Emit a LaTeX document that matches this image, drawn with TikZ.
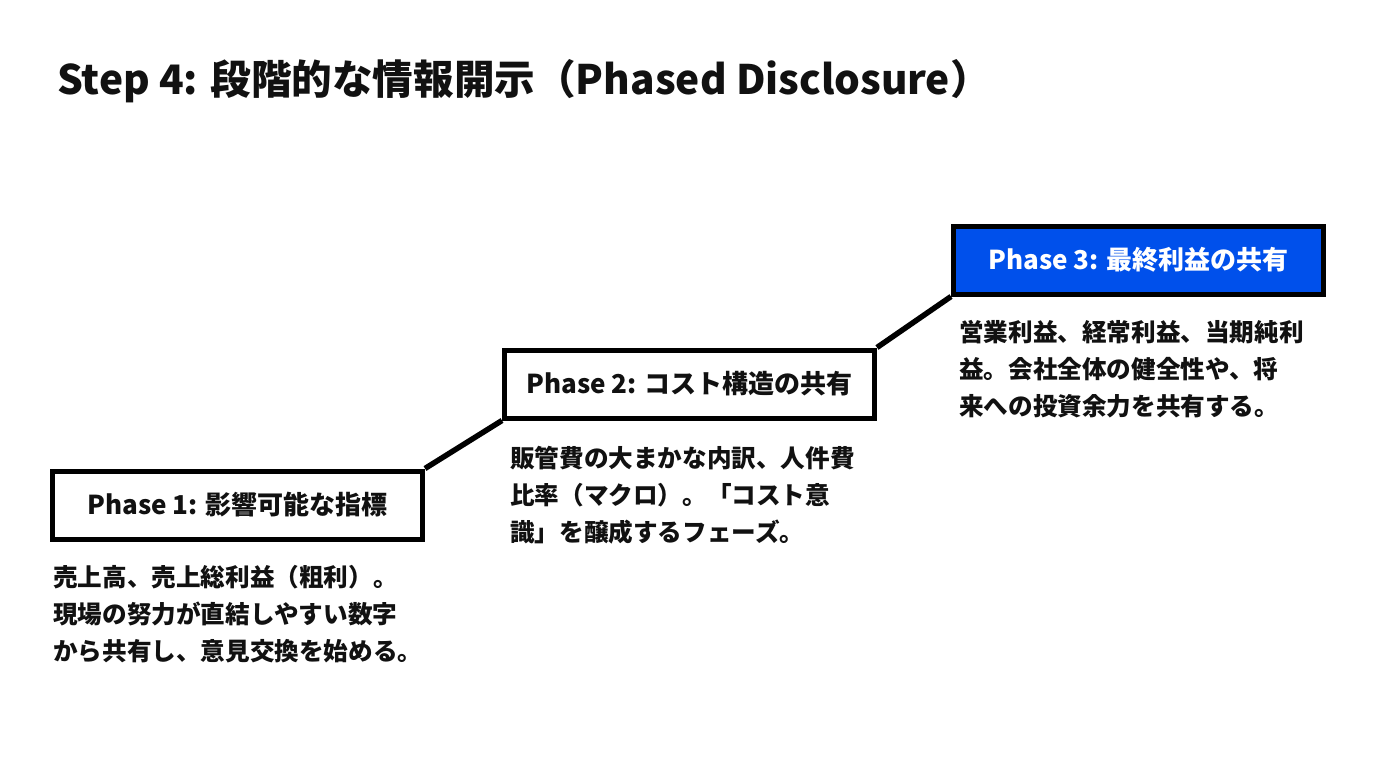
\documentclass[tikz,border=0pt]{standalone}
\usepackage{fontspec}
\setmainfont{Noto Sans CJK JP}
\usetikzlibrary{positioning}
\definecolor{phaseblue}{RGB}{0,80,235}
\definecolor{inkblack}{RGB}{17,17,17}
\tikzset{
  phasebox/.style={draw=black, line width=5pt, fill=white, text=inkblack,
    minimum width=370pt, minimum height=68pt, inner sep=0pt,
    font=\fontsize{26}{30}\selectfont\bfseries},
  phasedesc/.style={align=left, inner sep=0pt, text=inkblack,
    font=\fontsize{24.6}{37}\selectfont\bfseries},
  stepline/.style={draw=black, line width=5.5pt},
}
\begin{document}
\begin{tikzpicture}[x=1pt,y=-1pt]
\useasboundingbox[fill=white] (0,0) rectangle (1376,768);
% title
\node[anchor=base west, inner sep=0pt, text=inkblack, font=\fontsize{40.6}{48}\selectfont\bfseries] (title) at (57,95) {Step 4: 段階的な情報開示（Phased Disclosure）};
% phases
\node[phasebox] (ph1) at (237.5,505) {Phase 1: 影響可能な指標};
\node[phasebox] (ph2) at (689.5,384) {Phase 2: コスト構造の共有};
\node[phasebox, fill=phaseblue, text=white] (ph3) at (1138.5,260) {Phase 3: 最終利益の共有};
% steps between boxes
\draw[stepline] (ph1.north east) -- (ph2.south west);
\draw[stepline] (ph2.north east) -- (ph3.south west);
% descriptions
\node[phasedesc, below right=24pt and 3pt of ph1.south west] (d1) {売上高、売上総利益（粗利）。\\現場の努力が直結しやすい数字\\から共有し、意見交換を始める。};
\node[phasedesc, below right=26pt and 8pt of ph2.south west] (d2) {販管費の大まかな内訳、人件費\\比率（マクロ）。「コスト意\\識」を醸成するフェーズ。};
\node[phasedesc, below right=24pt and 8pt of ph3.south west] (d3) {営業利益、経常利益、当期純利\\益。会社全体の健全性や、将\\来への投資余力を共有する。};
\end{tikzpicture}
\end{document}
